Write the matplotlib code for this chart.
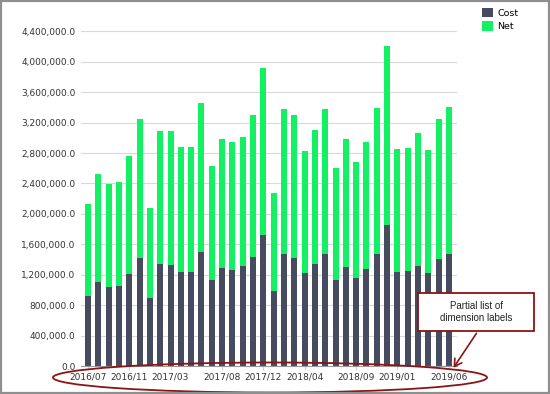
import matplotlib
matplotlib.use("Agg")
import matplotlib.pyplot as plt
import numpy as np
from matplotlib.patches import Ellipse, Rectangle, FancyArrowPatch

# Valores mensuales (2016/07 - 2019/06)
months = [f"{y}/{m:02d}" for y, m in
          [(2016 + (6 + i) // 12, (6 + i) % 12 + 1) for i in range(36)]]
cost = [920000, 1104000, 1034000, 1047000, 1205000, 1424000, 898000, 1341000,
        1332000, 1236000, 1236000, 1499000, 1131000, 1288000, 1266000, 1310000,
        1437000, 1722000, 986000, 1477000, 1424000, 1227000, 1341000, 1468000,
        1131000, 1301000, 1157000, 1279000, 1477000, 1854000, 1240000, 1244000,
        1319000, 1227000, 1407000, 1477000]
total = [2130000, 2528000, 2397000, 2419000, 2765000, 3251000, 2077000, 3085000,
         3089000, 2879000, 2879000, 3457000, 2625000, 2980000, 2940000, 3006000,
         3300000, 3917000, 2278000, 3383000, 3300000, 2830000, 3102000, 3374000,
         2603000, 2988000, 2682000, 2949000, 3392000, 4202000, 2853000, 2866000,
         3063000, 2839000, 3251000, 3405000]
net = [t - c for t, c in zip(total, cost)]
shown_labels = ["2016/07", "2016/11", "2017/03", "2017/08", "2017/12",
                "2018/04", "2018/09", "2019/01", "2019/06"]

cost_color = "#464b5f"
net_color = "#14f064"
dark_red = "#8b1414"

fig = plt.figure(figsize=(5.5, 3.94), dpi=100)
ax = fig.add_axes([81 / 550, 28 / 394, 376 / 550, 334.7 / 394])

x = np.arange(len(months))
ax.bar(x, cost, width=0.58, color=cost_color, label="Cost", zorder=2)
ax.bar(x, net, width=0.58, bottom=cost, color=net_color, label="Net", zorder=2)

ax.set_xlim(-0.68, 35.78)
ax.set_ylim(0, 4400000)
yticks = np.arange(0, 4400001, 400000)
ax.set_yticks(yticks)
ax.set_yticklabels([f"{v:,.1f}" for v in yticks], fontsize=6.5, color="#333333")
ax.grid(axis="y", color="#d9d9d9", linewidth=0.8, zorder=0)

tick_pos = [months.index(m) for m in shown_labels]
ax.set_xticks(tick_pos)
ax.set_xticklabels(shown_labels, fontsize=6.5, color="#333333")
ax.tick_params(axis="x", length=3, color="#d0d0d0", pad=2)
ax.tick_params(axis="y", length=0, pad=4)

for side in ["top", "right", "left"]:
    ax.spines[side].set_visible(False)
ax.spines["bottom"].set_color("#999999")

ax.legend(loc="upper left", bbox_to_anchor=(1.045, 1.095), frameon=False,
          fontsize=6.8, handlelength=1.15, handleheight=1.15,
          handletextpad=0.4, labelspacing=0.35)

# Anotaciones (elipse, caja y flecha)
fig.add_artist(Ellipse((270 / 550, (394 - 377.5) / 394), 434 / 550, 30 / 394,
                       transform=fig.transFigure, fill=False,
                       edgecolor=dark_red, linewidth=1.3))
fig.add_artist(Rectangle((418 / 550, (394 - 331) / 394), 116 / 550, 38 / 394,
                         transform=fig.transFigure, facecolor="white",
                         edgecolor=dark_red, linewidth=1.3))
fig.text(476 / 550, (394 - 312) / 394, "Partial list of\ndimension labels",
         ha="center", va="center", fontsize=7, family="Liberation Sans",
         color="#222222", linespacing=1.2)
fig.add_artist(FancyArrowPatch(
    (478 / 550, (394 - 331) / 394), (452 / 550, (394 - 370) / 394),
    transform=fig.transFigure, arrowstyle="->,head_length=5,head_width=3",
    color=dark_red, linewidth=1.2))

# Marco gris
fig.add_artist(Rectangle((0.001, 0.002), 0.998, 0.996, transform=fig.transFigure,
                         fill=False, edgecolor="#8f8f8f", linewidth=1.6))

fig.savefig("out.png", dpi=100)
